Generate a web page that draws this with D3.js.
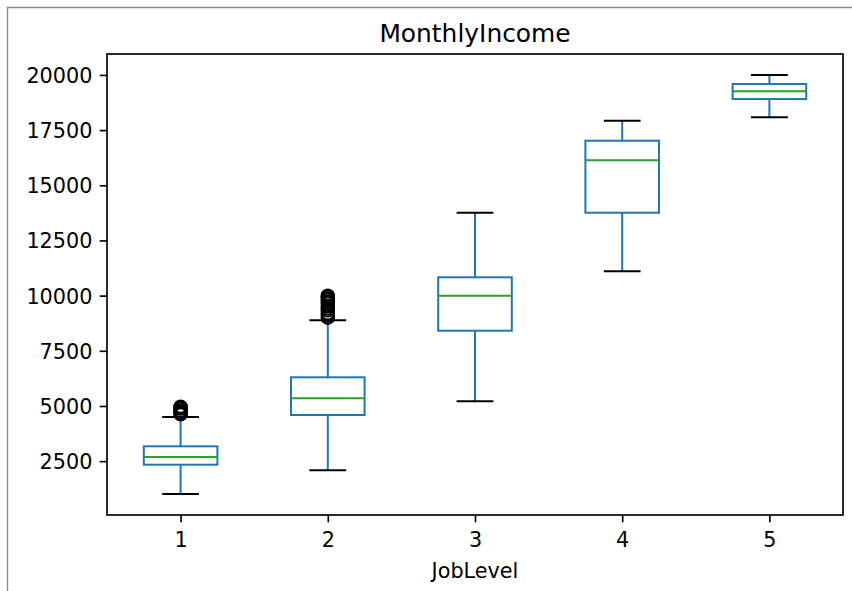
<!DOCTYPE html>
<html>
<head>
<meta charset="utf-8">
<script src="https://cdn.jsdelivr.net/npm/d3@7"></script>
<style>
  html, body { margin: 0; padding: 0; background: #ffffff; }
  svg { display: block; }
  text { font-family: "DejaVu Sans", sans-serif; fill: #000; }
</style>
</head>
<body>
<svg id="chart" width="852" height="591"></svg>
<script>
// MonthlyIncome grouped by JobLevel: five-number summaries and outliers
const jobLevels   = [1, 2, 3, 4, 5];
const whiskerLow  = [1009, 2085, 5211, 11102, 18079];
const quartile1   = [2339, 4590, 8410, 13757, 18908];
const medians     = [2687, 5347, 9996, 16131, 19257];
const quartile3   = [3172, 6299, 10830, 17019, 19588];
const whiskerHigh = [4500, 8881, 13757, 17925, 19999];
const outliers1   = [4620, 4660, 4700, 4740, 4780, 4880, 4910, 4940, 4968];
const outliers2   = [9000, 9090, 9200, 9330, 9420, 9530, 9640, 9730, 9810, 9880, 9950, 9999];
const yTickValues = [2500, 5000, 7500, 10000, 12500, 15000, 17500, 20000];

const titleText = "MonthlyIncome";
const xLabelText = "JobLevel";

const outliers = [outliers1, outliers2, [], [], []];
const boxes = jobLevels.map((lvl, i) => ({
  level: lvl,
  lo: whiskerLow[i], q1: quartile1[i], med: medians[i],
  q3: quartile3[i], hi: whiskerHigh[i], fliers: outliers[i]
}));

const svg = d3.select("#chart");
const W = 852, H = 591;

// outer frame (top and left edges)
svg.append("path")
  .attr("d", `M7.5,${H} L7.5,7.5 L${W},7.5`)
  .attr("fill", "none")
  .attr("stroke", "#8a8a8a")
  .attr("stroke-width", 1.4);

const plot = { left: 107, right: 843, top: 54, bottom: 515 };
const tickFont = 20.75;

// y domain: data extent with 5% margins
const allVals = [].concat(whiskerLow, whiskerHigh, outliers1, outliers2);
const yMin = d3.min(allVals), yMax = d3.max(allVals);
const pad = (yMax - yMin) * 0.05;

const x = d3.scaleLinear().domain([0.5, 5.5]).range([plot.left, plot.right]);
const y = d3.scaleLinear().domain([yMin - pad, yMax + pad]).range([plot.bottom, plot.top]);

const unit = x(1) - x(0);
const boxHalf = unit * 0.25;
const capHalf = unit * 0.125;

const g = svg.append("g");

// whiskers (blue)
g.selectAll("line.whisker-low").data(boxes).join("line")
  .attr("x1", d => x(d.level)).attr("x2", d => x(d.level))
  .attr("y1", d => y(d.q1)).attr("y2", d => y(d.lo))
  .attr("stroke", "#1f77b4").attr("stroke-width", 2);
g.selectAll("line.whisker-high").data(boxes).join("line")
  .attr("x1", d => x(d.level)).attr("x2", d => x(d.level))
  .attr("y1", d => y(d.q3)).attr("y2", d => y(d.hi))
  .attr("stroke", "#1f77b4").attr("stroke-width", 2);

// caps (black)
g.selectAll("line.cap-low").data(boxes).join("line")
  .attr("x1", d => x(d.level) - capHalf).attr("x2", d => x(d.level) + capHalf)
  .attr("y1", d => y(d.lo)).attr("y2", d => y(d.lo))
  .attr("stroke", "#000").attr("stroke-width", 2);
g.selectAll("line.cap-high").data(boxes).join("line")
  .attr("x1", d => x(d.level) - capHalf).attr("x2", d => x(d.level) + capHalf)
  .attr("y1", d => y(d.hi)).attr("y2", d => y(d.hi))
  .attr("stroke", "#000").attr("stroke-width", 2);

// boxes
g.selectAll("rect.box").data(boxes).join("rect")
  .attr("x", d => x(d.level) - boxHalf)
  .attr("width", boxHalf * 2)
  .attr("y", d => y(d.q3))
  .attr("height", d => y(d.q1) - y(d.q3))
  .attr("fill", "none")
  .attr("stroke", "#1f77b4").attr("stroke-width", 2);

// medians (green)
g.selectAll("line.median").data(boxes).join("line")
  .attr("x1", d => x(d.level) - boxHalf).attr("x2", d => x(d.level) + boxHalf)
  .attr("y1", d => y(d.med)).attr("y2", d => y(d.med))
  .attr("stroke", "#2ca02c").attr("stroke-width", 2);

// outliers: hollow black circles
const fliers = boxes.flatMap(d => d.fliers.map(v => ({ level: d.level, v })));
g.selectAll("circle.flier").data(fliers).join("circle")
  .attr("cx", d => x(d.level)).attr("cy", d => y(d.v))
  .attr("r", 6.2)
  .attr("fill", "none")
  .attr("stroke", "#000").attr("stroke-width", 2);

// axes
const yAxis = d3.axisLeft(y).tickValues(yTickValues).tickFormat(d3.format("d"))
  .tickSize(7.3).tickPadding(7.3).tickSizeOuter(0);
const xAxis = d3.axisBottom(x).tickValues(jobLevels).tickFormat(d3.format("d"))
  .tickSize(7.3).tickPadding(7.3).tickSizeOuter(0);

const ya = svg.append("g").attr("transform", `translate(${plot.left},0)`).call(yAxis);
const xa = svg.append("g").attr("transform", `translate(0,${plot.bottom})`).call(xAxis);
[ya, xa].forEach(a => {
  a.select(".domain").remove();
  a.selectAll(".tick line").attr("stroke", "#000").attr("stroke-width", 1.66);
  a.selectAll(".tick text").attr("font-size", tickFont).attr("font-family", "DejaVu Sans").attr("fill", "#000");
});
ya.selectAll(".tick text").attr("dy", "0.36em");
xa.selectAll(".tick text").attr("dy", "0.82em");

// spines
svg.append("rect")
  .attr("x", plot.left).attr("y", plot.top)
  .attr("width", plot.right - plot.left).attr("height", plot.bottom - plot.top)
  .attr("fill", "none").attr("stroke", "#000").attr("stroke-width", 1.66);

// title and axis label
svg.append("text")
  .attr("x", (plot.left + plot.right) / 2).attr("y", 41.5)
  .attr("text-anchor", "middle").attr("font-size", 24.9)
  .text(titleText);
svg.append("text")
  .attr("x", (plot.left + plot.right) / 2).attr("y", 577.5)
  .attr("text-anchor", "middle").attr("font-size", tickFont)
  .text(xLabelText);
</script>
</body>
</html>
